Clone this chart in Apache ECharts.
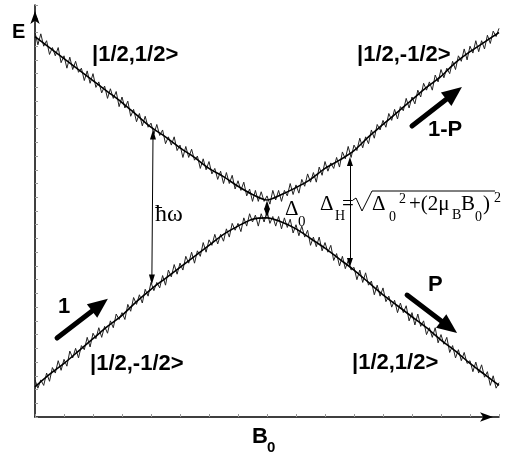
<!DOCTYPE html>
<html>
<head>
<meta charset="utf-8">
<title>Avoided crossing</title>
<script src="https://cdn.jsdelivr.net/npm/echarts@6/dist/echarts.min.js"></script>
<style>
  html, body { margin: 0; padding: 0; background: #fff; }
  #chart { width: 505px; height: 458px; }
</style>
</head>
<body>
<div id="chart"></div>
<script>
// fitted levels, sampled every 0.5 in B0
const levelB = [0, 0.5, 1, 1.5, 2, 2.5, 3, 3.5, 4, 4.5, 5, 5.5, 6, 6.5, 7, 7.5, 8,
  8.5, 9, 9.5, 10, 10.5, 11, 11.5, 12, 12.5, 13, 13.5, 14, 14.5, 15, 15.5, 16];
const upperLevel = [27.7, 26.9, 26.1, 25.3, 24.5, 23.7, 22.9, 22.0, 21.1, 20.4, 19.6, 18.9, 18.1, 17.5, 16.8, 16.2, 15.8,
  16.2, 16.7, 17.3, 18.1, 18.7, 19.4, 20.4, 21.3, 22.2, 23.1, 24.0, 24.8, 25.8, 26.6, 27.3, 28.0];
const lowerLevel = [2.2, 3.1, 3.9, 4.8, 5.7, 6.6, 7.4, 8.4, 9.3, 10.1, 10.9, 11.7, 12.5, 13.3, 13.9, 14.4, 14.5,
  14.2, 13.7, 13.0, 12.3, 11.5, 10.7, 9.8, 8.9, 8.1, 7.3, 6.5, 5.6, 4.8, 3.9, 3.1, 2.3];

// measured (noisy) traces, one point every 0.1 in B0
const traceStep = 0.1;
const upperTrace = [
  28.0, 27.1, 27.9, 27.0, 27.4, 26.4, 26.9, 26.3, 26.9, 25.8,
  26.3, 25.4, 26.2, 25.3, 25.9, 25.1, 25.4, 24.5, 25.2, 24.3,
  25.0, 24.0, 24.4, 23.6, 24.1, 23.2, 23.9, 23.2, 23.7, 22.6,
  23.3, 22.5, 23.0, 21.9, 22.4, 21.5, 22.1, 21.2, 21.9, 21.1,
  21.4, 20.6, 21.3, 20.5, 20.9, 19.9, 20.4, 19.8, 20.4, 19.4,
  19.8, 18.9, 19.7, 18.9, 19.5, 18.7, 19.0, 18.1, 18.8, 18.0,
  18.6, 17.7, 18.1, 17.3, 17.9, 17.0, 17.8, 17.0, 17.6, 16.6,
  17.2, 16.5, 17.1, 16.1, 16.6, 15.7, 16.5, 15.7, 16.4, 15.7,
  16.1, 15.5, 16.5, 15.8, 16.5, 15.7, 16.5, 16.1, 17.0, 16.2,
  16.9, 16.3, 17.3, 16.8, 17.7, 17.1, 17.8, 17.1, 18.2, 17.6,
  18.6, 17.9, 18.5, 18.1, 18.9, 18.2, 19.3, 18.8, 19.7, 18.9,
  19.8, 19.4, 20.3, 19.6, 20.4, 19.9, 20.9, 20.3, 21.3, 20.9,
  21.6, 21.1, 22.1, 21.6, 22.4, 21.7, 22.6, 22.3, 23.2, 22.5,
  23.3, 22.8, 23.8, 23.3, 24.3, 23.8, 24.4, 23.8, 24.9, 24.4,
  25.3, 24.7, 25.4, 25.0, 25.9, 25.3, 26.3, 25.9, 26.8, 26.0,
  27.0, 26.5, 27.4, 26.6, 27.4, 26.8, 27.8, 27.2, 28.1, 27.7,
  28.3
];
const lowerTrace = [
  2.7, 2.1, 2.7, 2.3, 3.2, 2.6, 3.6, 3.2, 4.1, 3.4,
  4.2, 3.7, 4.8, 4.3, 5.0, 4.3, 5.2, 4.9, 5.8, 5.1,
  6.1, 5.7, 6.5, 5.8, 6.6, 6.1, 7.0, 6.5, 7.5, 7.1,
  7.6, 7.1, 8.2, 7.7, 8.7, 8.2, 8.9, 8.3, 9.3, 8.8,
  9.8, 9.2, 9.8, 9.4, 10.3, 9.6, 10.7, 10.2, 11.1, 10.4,
  11.2, 10.7, 11.7, 11.2, 12.0, 11.2, 12.1, 11.7, 12.7, 12.0,
  12.9, 12.5, 13.3, 12.6, 13.3, 12.8, 13.7, 13.1, 14.1, 13.6,
  14.1, 13.5, 14.5, 13.9, 14.8, 14.2, 14.7, 13.9, 14.8, 14.2,
  15.0, 14.1, 14.6, 13.9, 14.6, 13.7, 14.5, 13.8, 14.4, 13.4,
  14.0, 13.2, 13.9, 13.1, 13.6, 12.5, 13.1, 12.4, 13.1, 12.1,
  12.7, 12.0, 12.5, 11.4, 11.9, 11.0, 11.7, 10.8, 11.4, 10.7,
  10.9, 10.0, 10.7, 9.8, 10.5, 9.6, 9.9, 8.9, 9.6, 8.8,
  9.4, 8.4, 8.8, 8.0, 8.5, 7.6, 8.3, 7.6, 8.1, 7.0,
  7.6, 6.7, 7.5, 6.6, 7.0, 6.0, 6.5, 5.8, 6.5, 5.4,
  6.0, 5.3, 5.8, 4.7, 5.2, 4.3, 4.9, 4.1, 4.7, 3.9,
  4.1, 3.3, 4.0, 3.2, 3.8, 2.9, 3.3, 2.3, 3.0, 2.1,
  2.5
];

// arrows, in B0 / E units: [from, to]
const thickArrows = [
  [[0.76, 5.75], [2.24, 8.16]],    // 1
  [[13.0, 21.19], [14.45, 23.58]], // 1-P
  [[12.83, 8.88], [14.28, 6.55]]   // P
];
const gapArrows = [
  [[8, 15.44], [8, 14.85]],        // Delta_0
  [[10.86, 18.6], [10.86, 11.25]]  // Delta_H
];
const photonArrow = [[4.07, 20.57], [4.03, 10.01]];

const chart = echarts.init(document.getElementById('chart'), null, { renderer: 'canvas' });

const toPairs = (xs, ys) => ys.map((y, i) => [xs[i], y]);
const tracePairs = ys => ys.map((y, i) => [+(i * traceStep).toFixed(2), y]);

const sans = 'Liberation Sans';
const serif = 'Liberation Serif';
const txt = (text, x, base, size, family, bold) => ({
  type: 'text',
  x: x,
  y: base - size * 0.35,
  silent: true,
  style: {
    text: text,
    fontSize: size,
    fontFamily: family,
    fontWeight: bold ? 'bold' : 'normal',
    fill: '#000',
    verticalAlign: 'middle'
  }
});

const option = {
  animation: false,
  backgroundColor: '#fff',
  grid: { left: 35, right: 6, top: 5, bottom: 41 },
  xAxis: {
    type: 'value',
    min: 0,
    max: 16,
    interval: 1,
    axisLine: {
      lineStyle: { color: '#000', width: 1.5 },
      symbol: ['none', 'arrow'],
      symbolSize: [7, 13],
      symbolOffset: [0, -6]
    },
    axisTick: { inside: true, length: 3, lineStyle: { color: '#999', width: 1 } },
    axisLabel: { show: false },
    splitLine: { show: false }
  },
  yAxis: {
    type: 'value',
    min: 0,
    max: 30,
    interval: 1,
    axisLine: {
      lineStyle: { color: '#000', width: 1.5 },
      symbol: ['none', 'arrow'],
      symbolSize: [7, 13],
      symbolOffset: [0, -6]
    },
    axisTick: { inside: true, length: 3, lineStyle: { color: '#999', width: 1 } },
    axisLabel: { show: false },
    splitLine: { show: false }
  },
  series: [
    {
      type: 'line',
      data: tracePairs(upperTrace),
      showSymbol: false,
      silent: true,
      lineStyle: { color: '#222', width: 1 }
    },
    {
      type: 'line',
      data: tracePairs(lowerTrace),
      showSymbol: false,
      silent: true,
      lineStyle: { color: '#222', width: 1 }
    },
    {
      type: 'line',
      data: toPairs(levelB, upperLevel),
      smooth: 0.3,
      showSymbol: false,
      silent: true,
      lineStyle: { color: '#000', width: 1.6 }
    },
    {
      type: 'line',
      data: toPairs(levelB, lowerLevel),
      smooth: 0.3,
      showSymbol: false,
      silent: true,
      lineStyle: { color: '#000', width: 1.6 }
    },
    {
      type: 'line',
      data: [],
      silent: true,
      markLine: {
        silent: true,
        animation: false,
        label: { show: false },
        lineStyle: { color: '#000', width: 5, type: 'solid', cap: 'round' },
        data: thickArrows.map(a => [
          { coord: a[0], symbol: 'none' },
          { coord: a[1], symbol: 'triangle', symbolSize: [17, 20] }
        ])
      }
    },
    {
      type: 'line',
      data: [],
      silent: true,
      markLine: {
        silent: true,
        animation: false,
        label: { show: false },
        lineStyle: { color: '#000', width: 1, type: 'solid' },
        data: gapArrows.map(a => [
          { coord: a[0], symbol: 'triangle', symbolSize: [6, 9] },
          { coord: a[1], symbol: 'triangle', symbolSize: [6, 9] }
        ])
      }
    },
    {
      type: 'line',
      data: [],
      silent: true,
      markLine: {
        silent: true,
        animation: false,
        label: { show: false },
        lineStyle: { color: '#000', width: 1, type: 'solid', curveness: -0.07 },
        data: [[
          { coord: photonArrow[0], symbol: 'triangle', symbolSize: [6, 10] },
          { coord: photonArrow[1], symbol: 'triangle', symbolSize: [6, 10] }
        ]]
      }
    }
  ],
  graphic: [
    txt('E', 12, 39, 20, sans, true),
    txt('|1/2,1/2>', 92, 63, 22, sans, true),
    txt('|1/2,-1/2>', 357, 63, 22, sans, true),
    txt('1-P', 428, 138, 22, sans, true),
    txt('P', 428, 293, 22, sans, true),
    txt('1', 58, 315, 22, sans, true),
    txt('|1/2,-1/2>', 90, 372, 22, sans, true),
    txt('|1/2,1/2>', 352, 371, 22, sans, true),
    txt('B', 252, 445, 22, sans, true),
    txt('0', 267, 453, 15, sans, true),
    txt('ħω', 155, 223, 24, serif, false),
    txt('Δ', 285, 217, 21, serif, false),
    txt('0', 298, 227, 15, serif, false),
    txt('Δ', 320, 212, 21, serif, false),
    txt('H', 335, 221, 14, serif, false),
    txt('=', 342, 212, 21, serif, false),
    {
      type: 'polyline',
      silent: true,
      shape: { points: [[353, 200], [356, 198], [362, 211], [372, 191], [495, 191]] },
      style: { stroke: '#000', lineWidth: 1, fill: null }
    },
    txt('Δ', 372, 212, 21, serif, false),
    txt('0', 389, 222, 14, serif, false),
    txt('2', 399, 204, 14, serif, false),
    txt('+(2μ', 409, 212, 21, serif, false),
    txt('B', 452, 220, 14, serif, false),
    txt('B', 461, 212, 21, serif, false),
    txt('0', 475, 222, 14, serif, false),
    txt(')', 483, 212, 21, serif, false),
    txt('2', 494, 203, 14, serif, false)
  ]
};

chart.setOption(option);
window.addEventListener('resize', () => chart.resize());
</script>
</body>
</html>
